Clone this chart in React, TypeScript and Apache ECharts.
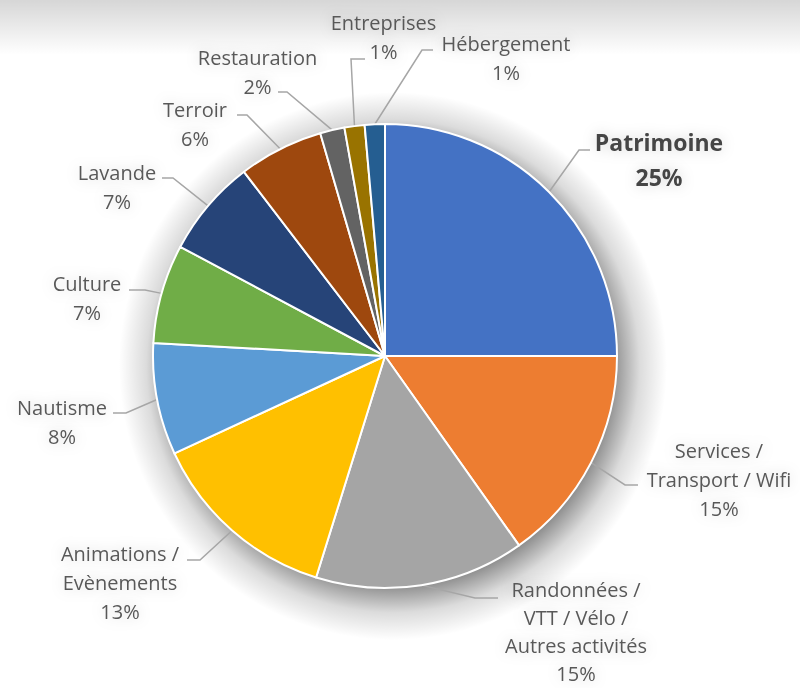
import React, { useEffect, useRef } from 'react';
import * as echarts from 'echarts';

// ---- Data ----
const categories = [
  'Patrimoine',
  'Services /\nTransport / Wifi',
  'Randonnées /\nVTT / Vélo /\nAutres activités',
  'Animations /\nEvènements',
  'Nautisme',
  'Culture',
  'Lavande',
  'Terroir',
  'Restauration',
  'Entreprises',
  'Hébergement',
];
const shares = [25, 15.2, 14.6, 13.3, 7.8, 6.9, 6.8, 5.9, 1.7, 1.4, 1.4];

// ---- Styling ----
const palette = ['#4472C4', '#ED7D31', '#A5A5A5', '#FFC000', '#5B9BD5', '#70AD47', '#264478', '#9E480E', '#636363', '#997300', '#255E91'];

// label block placement (center x, top y) and leader line elbow / end
const labelPlacement: { x: number; top: number; elbow: number[]; end: number[] }[] = [
  { x: 659, top: 124.5, elbow: [579, 150], end: [590, 150] },
  { x: 719, top: 435.5, elbow: [625, 485], end: [638, 485] },
  { x: 576, top: 575, elbow: [475, 598], end: [498, 598] },
  { x: 120, top: 538.5, elbow: [200, 560], end: [187, 560] },
  { x: 62, top: 392.5, elbow: [126, 413], end: [113, 413] },
  { x: 87, top: 268.5, elbow: [145, 290], end: [129, 290] },
  { x: 117, top: 157.5, elbow: [173, 178], end: [162, 178] },
  { x: 195, top: 94.5, elbow: [247, 115], end: [237, 115] },
  { x: 257.5, top: 42.5, elbow: [287, 92], end: [278, 92] },
  { x: 383.5, top: 7.5, elbow: [351, 59], end: [365, 59] },
  { x: 506, top: 28.5, elbow: [422, 50], end: [433, 50] },
];

const CENTER = [385, 356];
const RADIUS = 232;
const SHADOW_CENTER = [393, 366];
const SHADOW_RADIUS = 274;

export default function App() {
  const ref = useRef<HTMLDivElement>(null);

  useEffect(() => {
    document.body.style.margin = '0';
    if (!ref.current) return;
    const chart = echarts.init(ref.current, undefined, { renderer: 'svg' });

    const data = categories.map((name, i) => ({
      name,
      value: shares[i],
      label:
        i === 0
          ? { fontWeight: 'bold', fontSize: 23, lineHeight: 35, color: '#444444' }
          : i === 2
          ? { lineHeight: 28 }
          : undefined,
    }));

    chart.setOption({
      animation: false,
      backgroundColor: '#ffffff',
      color: palette,
      graphic: [
        {
          type: 'rect',
          silent: true,
          z: -10,
          shape: { x: 0, y: 0, width: 800, height: 55 },
          style: {
            fill: new echarts.graphic.LinearGradient(0, 0, 0, 1, [
              { offset: 0, color: 'rgba(0,0,0,0.16)' },
              { offset: 1, color: 'rgba(0,0,0,0)' },
            ]),
          },
        },
      ],
      series: [
        {
          type: 'pie',
          silent: true,
          center: SHADOW_CENTER,
          radius: SHADOW_RADIUS,
          z: 1,
          label: { show: false },
          labelLine: { show: false },
          itemStyle: {
            color: new echarts.graphic.RadialGradient(0.5, 0.5, 0.5, [
              { offset: 0, color: 'rgba(0,0,0,0.5)' },
              { offset: 0.8, color: 'rgba(0,0,0,0.45)' },
              { offset: 0.9, color: 'rgba(0,0,0,0.14)' },
              { offset: 1, color: 'rgba(0,0,0,0)' },
            ]),
            borderWidth: 0,
          },
          emphasis: { disabled: true },
          data: [{ value: 1, name: '' }],
        },
        {
          type: 'pie',
          center: CENTER,
          radius: RADIUS,
          z: 2,
          startAngle: 90,
          clockwise: true,
          avoidLabelOverlap: false,
          itemStyle: { borderColor: '#ffffff', borderWidth: 2 },
          label: {
            show: true,
            position: 'outside',
            fontFamily: 'Open Sans',
            fontSize: 20,
            lineHeight: 29,
            color: '#595959',
            textShadowColor: 'rgba(0,0,0,0.18)',
            textShadowBlur: 14,
            formatter: (p: any) => `${p.name}\n${Math.round(p.percent)}%`,
          },
          labelLine: {
            show: true,
            length: 10,
            length2: 10,
            lineStyle: { color: '#A6A6A6', width: 1.5 },
          },
          labelLayout: (params: any) => {
            const pl = labelPlacement[params.dataIndex];
            const start = params.labelLinePoints && params.labelLinePoints[0];
            const out: any = { x: pl.x, y: pl.top, align: 'center', verticalAlign: 'top' };
            if (start) out.labelLinePoints = [start, pl.elbow, pl.end];
            return out;
          },
          emphasis: { disabled: true },
          data,
        },
      ],
    });

    return () => chart.dispose();
  }, []);

  return <div ref={ref} style={{ width: 800, height: 688 }} />;
}
